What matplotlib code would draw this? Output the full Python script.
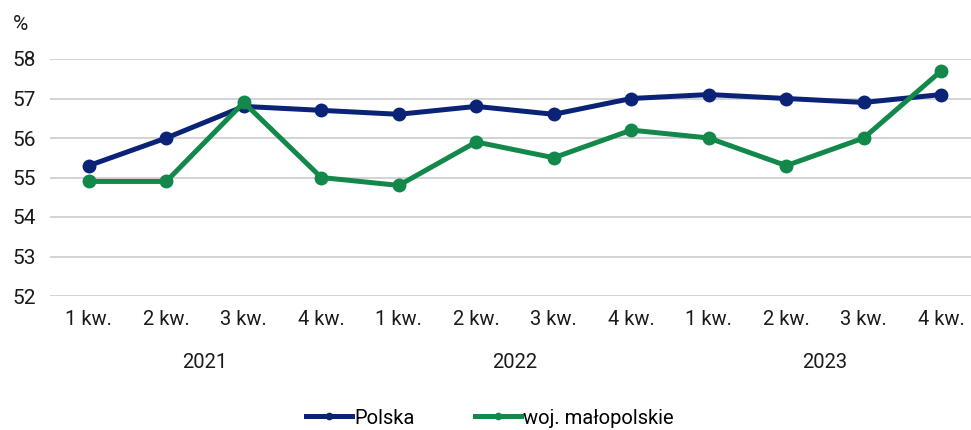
import matplotlib
matplotlib.use("Agg")
import matplotlib.pyplot as plt
from matplotlib import font_manager as fm
import matplotlib.transforms as mtransforms

names = {f.name for f in fm.fontManager.ttflist}
fam = [n for n in ['Liberation Sans Narrow', 'DejaVu Sans Condensed', 'Roboto', 'DejaVu Sans'] if n in names]
plt.rcParams['font.family'] = fam

quarters = ["1 kw.", "2 kw.", "3 kw.", "4 kw.", "1 kw.", "2 kw.", "3 kw.", "4 kw.", "1 kw.", "2 kw.", "3 kw.", "4 kw."]
years = ["2021", "2022", "2023"]
polska = [55.3, 56.0, 56.8, 56.7, 56.6, 56.8, 56.6, 57.0, 57.1, 57.0, 56.9, 57.1]
malopolskie = [54.9, 54.9, 56.9, 55.0, 54.8, 55.9, 55.5, 56.2, 56.0, 55.3, 56.0, 57.7]
yticks = [52, 53, 54, 55, 56, 57, 58]

navy = "#0b2376"
green = "#12884a"
txt = "#1a1a1a"

fig = plt.figure(figsize=(9.71, 4.30), dpi=100)
ax = fig.add_axes([50/971, 1-296/430, 930/971, (296-59)/430])
x = list(range(len(quarters)))
ax.plot(x, polska, color=navy, lw=3.6, marker='o', ms=9, label="Polska", zorder=3)
ax.plot(x, malopolskie, color=green, lw=3.6, marker='o', ms=9, label="woj. małopolskie", zorder=3)

ax.set_xlim(-0.5, 11.5)
ax.set_ylim(52, 58)
ax.set_yticks(yticks)
ax.set_yticklabels([str(v) for v in yticks], fontsize=15, color=txt)
ax.set_xticks(x)
ax.set_xticklabels(quarters, fontsize=14.5, color=txt)
ax.tick_params(axis='both', length=0)
ax.tick_params(axis='y', pad=10)
ax.tick_params(axis='x', pad=10)
ax.grid(axis='y', color="#c8c8c8", lw=1.1)
ax.set_axisbelow(True)
for s in ax.spines.values():
    s.set_visible(False)

trans = mtransforms.blended_transform_factory(ax.transData, fig.transFigure)
for i, yr in enumerate(years):
    ax.text(1.5 + 4*i, 1-362/430, yr, transform=trans, ha='center', va='center', fontsize=14.5, color=txt)

fig.text(20/971, 1-25/430, "%", ha='center', va='center', fontsize=15, color=txt)

leg = fig.legend(loc='center', bbox_to_anchor=(490/971, 1-418/430), ncol=2, frameon=False,
                 fontsize=14.5, handlelength=2.3, columnspacing=3.0, handletextpad=0.1, markerscale=0.5)

fig.savefig("out.png", dpi=100, facecolor="white")
